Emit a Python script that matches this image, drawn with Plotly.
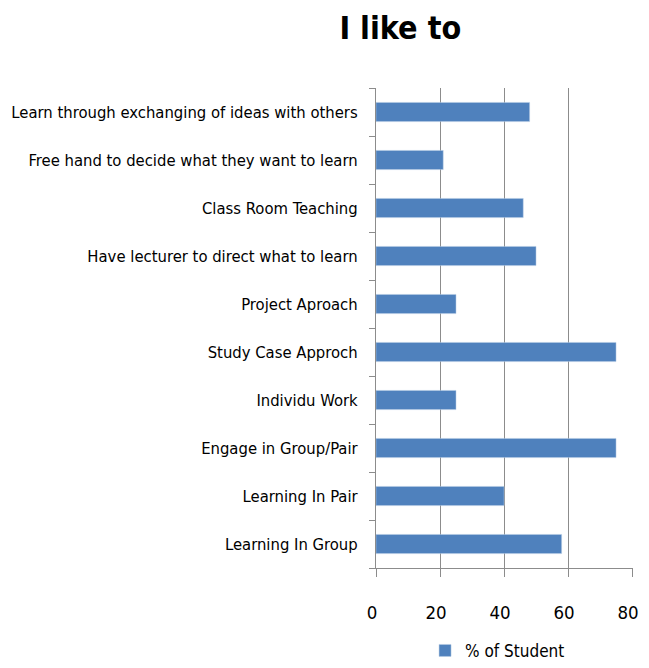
import plotly.graph_objects as go

categories = [
    "Learning In Group",
    "Learning In Pair",
    "Engage in Group/Pair",
    "Individu Work",
    "Study Case Approch",
    "Project Aproach",
    "Have lecturer to direct what to learn",
    "Class Room Teaching",
    "Free hand to decide what they want to learn",
    "Learn through exchanging of ideas with others",
]
values = [58, 40, 75, 25, 75, 25, 50, 46, 21, 48]
series_name = "% of Student"
x_ticks = [0, 20, 40, 60, 80]

FONT = "DejaVu Sans Condensed, Liberation Sans, sans-serif"

# the page body adds an 8px margin, so the figure is sized/offset to compensate
fig = go.Figure(
    go.Bar(
        y=categories,
        x=values,
        orientation="h",
        name=series_name,
        marker=dict(color="#4F81BD", line=dict(color="#B9CDE5", width=0.5)),
        showlegend=True,
    )
)

fig.update_layout(
    width=641,
    height=652,
    paper_bgcolor="white",
    plot_bgcolor="white",
    margin=dict(l=368, r=16, t=80, b=92),
    bargap=0.6,
    title=dict(
        text="<b>I like to</b>",
        x=0.612,
        xanchor="center",
        y=0.969,
        yanchor="middle",
        font=dict(family=FONT, size=32, color="black"),
    ),
    font=dict(family=FONT, size=17, color="black"),
    legend=dict(
        orientation="h",
        xref="paper",
        x=0.473,
        xanchor="center",
        yref="container",
        y=0.014,
        yanchor="middle",
        font=dict(family=FONT, size=17, color="black"),
        itemwidth=30,
    ),
    xaxis=dict(
        range=[0, 80.3],
        tickvals=x_ticks,
        automargin=False,
        showgrid=True,
        gridcolor="#8C8C8C",
        gridwidth=1,
        zeroline=False,
        showline=True,
        linecolor="#8C8C8C",
        ticks="outside",
        ticklen=8,
        tickcolor="#8C8C8C",
        ticklabelstandoff=20,
        ticklabelshift=-4,
        tickfont=dict(family=FONT, size=18.5, color="black"),
    ),
    yaxis=dict(
        categoryorder="array",
        categoryarray=categories,
        automargin=False,
        showgrid=False,
        zeroline=False,
        showline=True,
        linecolor="#8C8C8C",
        ticks="outside",
        tickson="boundaries",
        ticklen=6,
        tickcolor="#8C8C8C",
        ticklabelstandoff=14,
        tickfont=dict(family=FONT, size=16.5, color="black"),
    ),
)

fig.write_html("out.html")
